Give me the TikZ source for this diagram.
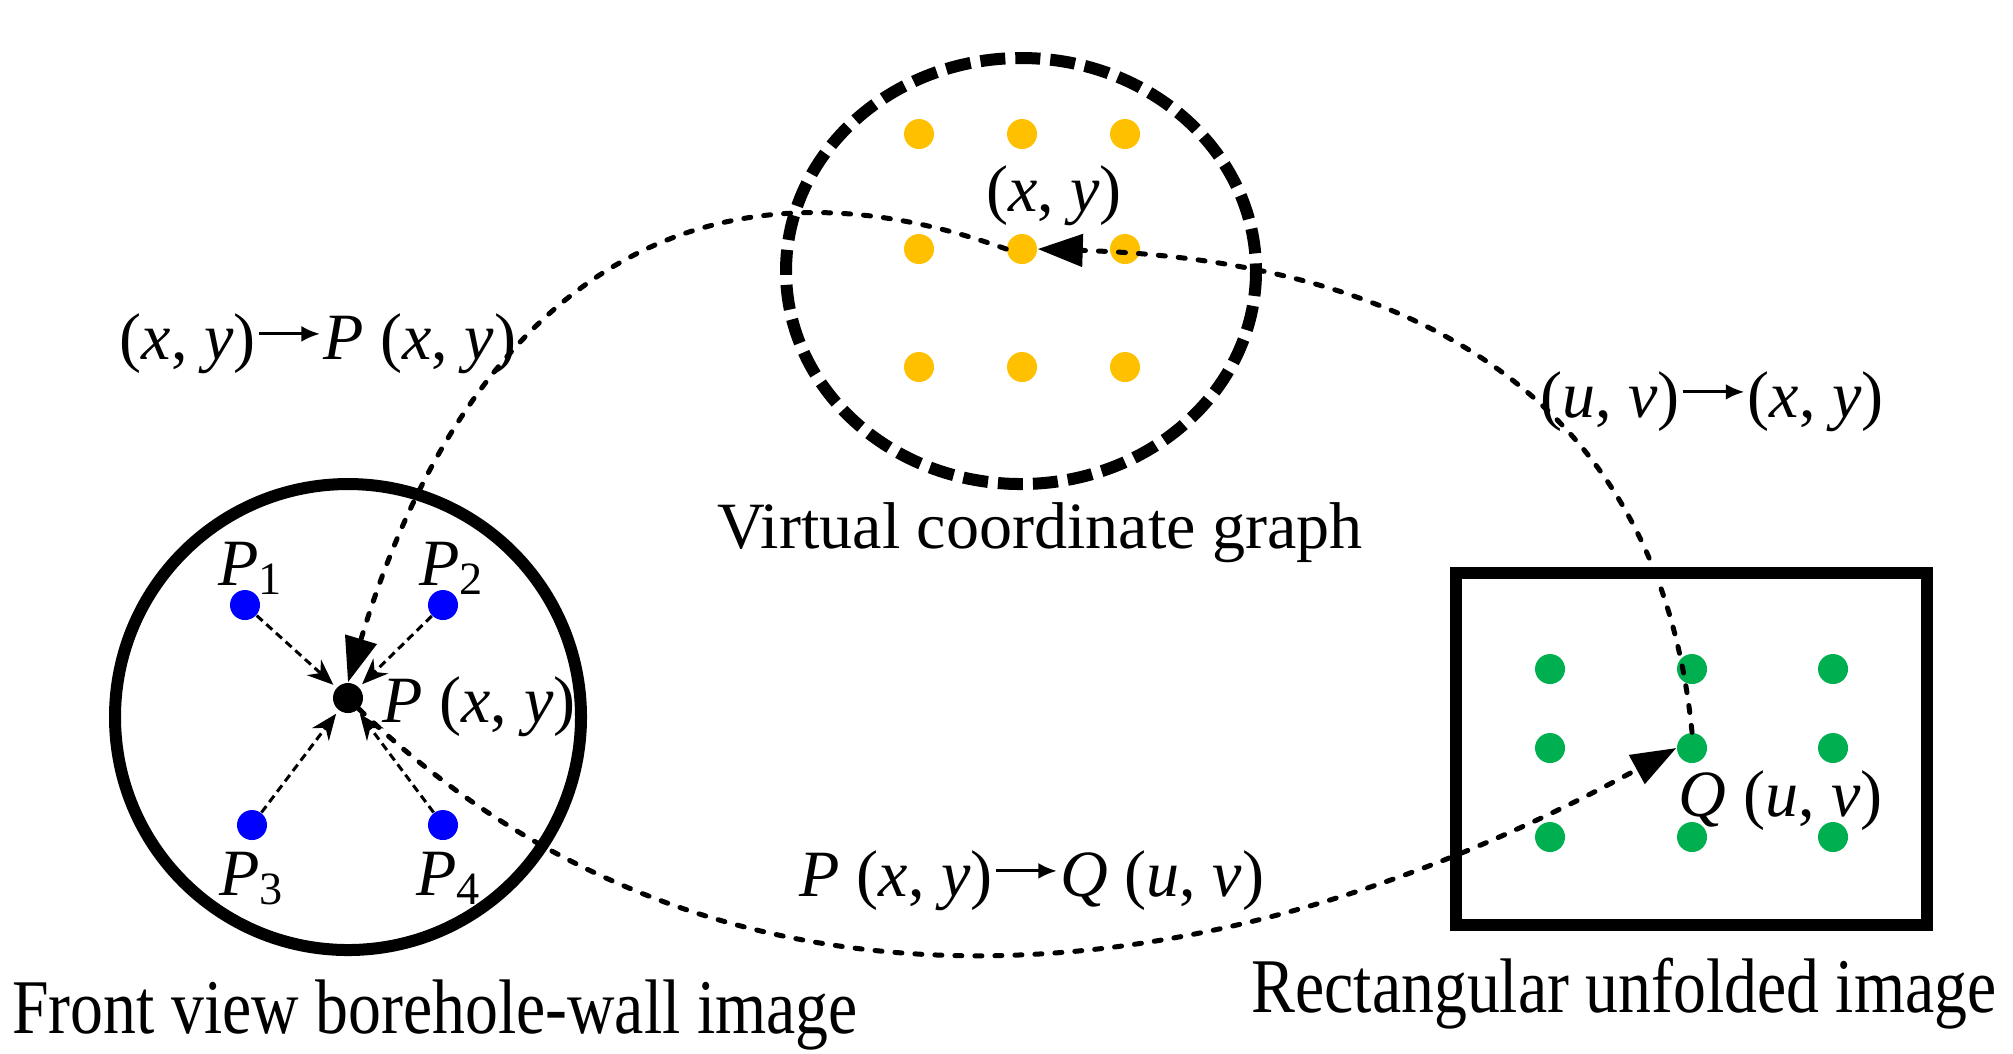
\documentclass[tikz,border=0pt]{standalone}
\usepackage{fontspec}
\setmainfont{Liberation Serif}
\newfontfamily\titlefont[FakeStretch=0.85]{Liberation Serif}
\usetikzlibrary{arrows.meta}
\definecolor{dotblue}{HTML}{0000FF}
\definecolor{dotgold}{HTML}{FFC000}
\definecolor{dotgreen}{HTML}{00B050}
\newcommand{\tomap}{\hspace{0.03em}\tikz[baseline=-0.38em]\draw[line width=0.045em, -{Latex[length=0.28em, width=0.24em]}] (0,0) -- (0.92em,0);\hspace{0.03em}}
\tikzset{
	dot/.style={circle, inner sep=0pt, minimum size=0.3cm},
	rim/.style={draw, line width=0.12cm},
	vrim/.style={rim, dash pattern=on 0.25cm off 0.1cm},
	flow/.style={-{Triangle[length=0.45cm, width=0.32cm]}, line width=0.05cm, line cap=round, dash pattern=on 0.07cm off 0.13cm},
	pull/.style={-{Stealth[length=0.26cm, width=0.21cm]}, line width=0.03cm, dash pattern=on 0.08cm off 0.05cm, shorten >=0.04cm},
	lbl/.style={anchor=base, inner sep=0pt, font=\fontsize{18.8}{22}\selectfont},
	title/.style={anchor=base, inner sep=0pt, font={\titlefont\fontsize{22}{26}\selectfont}}
}

\begin{document}
\begin{tikzpicture}[x=0.01cm, y=-0.01cm]
	\useasboundingbox (0,0) rectangle (2013,1053);
	% frames
	\draw[rim] (348,717) circle (233);
	\draw[vrim] (1021,271) ellipse [x radius=235, y radius=213];
	\draw[rim] (1456,573) rectangle (1927,925);
	% borehole-wall points
	\node[dot, fill=black] (pt) at (348,698) {};
	\node[dot, fill=dotblue] (p1) at (245,605) {};
	\node[dot, fill=dotblue] (p2) at (443,605) {};
	\node[dot, fill=dotblue] (p3) at (252,825) {};
	\node[dot, fill=dotblue] (p4) at (443,825) {};
	\node[lbl] (p1lbl) at (251,585) {\textit{P}\textsubscript{1}};
	\node[lbl] (p2lbl) at (452,585) {\textit{P}\textsubscript{2}};
	\node[lbl] (p3lbl) at (252,895) {\textit{P}\textsubscript{3}};
	\node[lbl] (p4lbl) at (449,895) {\textit{P}\textsubscript{4}};
	\node[lbl, anchor=base west] (ptlbl) at (382,722) {\textit{P} (\textit{x}, \textit{y})};
	% virtual grid and unfolded grid
	\foreach \c [count=\i] in {919,1022,1125}
		\foreach \r [count=\j] in {134,249,367}
			\node[dot, fill=dotgold] (v\j\i) at (\c,\r) {};
	\foreach \c [count=\i] in {1550,1692,1833}
		\foreach \r [count=\j] in {669,748,837}
			\node[dot, fill=dotgreen] (q\j\i) at (\c,\r) {};
	\node[lbl] (vlbl) at (1054,211) {(\textit{x}, \textit{y})};
	\node[lbl, anchor=base west] (qlbl) at (1678,816) {\textit{Q} (\textit{u}, \textit{v})};
	% interpolation
	\draw[pull] (p1) -- (pt);
	\draw[pull] (p2) -- (pt);
	\draw[pull] (p3) -- (pt);
	\draw[pull] (p4) -- (pt);
	% mappings
	\draw[flow] (q22.north) .. controls +(-35,-353) and +(350,11) .. (v22.east);
	\draw[flow] (v22.west) .. controls +(-320,-115) and +(116,-384) .. (pt.north);
	\draw[flow] (pt.south east) .. controls +(360,345) and +(-466,254) .. (q22.west);
	\node[lbl] (uvxy) at (1712,417) {(\textit{u}, \textit{v})\tomap(\textit{x}, \textit{y})};
	\node[lbl] (xyp) at (318,359) {(\textit{x}, \textit{y})\tomap\textit{P} (\textit{x}, \textit{y})};
	\node[lbl] (pq) at (1032,896) {\textit{P} (\textit{x}, \textit{y})\tomap\textit{Q} (\textit{u}, \textit{v})};
	% titles
	\node[lbl] (virt) at (1040,548) {Virtual coordinate graph};
	\node[title] (front) at (435,1033) {Front view borehole-wall image};
	\node[title] (unfold) at (1624,1012) {Rectangular unfolded image};
\end{tikzpicture}
\end{document}
